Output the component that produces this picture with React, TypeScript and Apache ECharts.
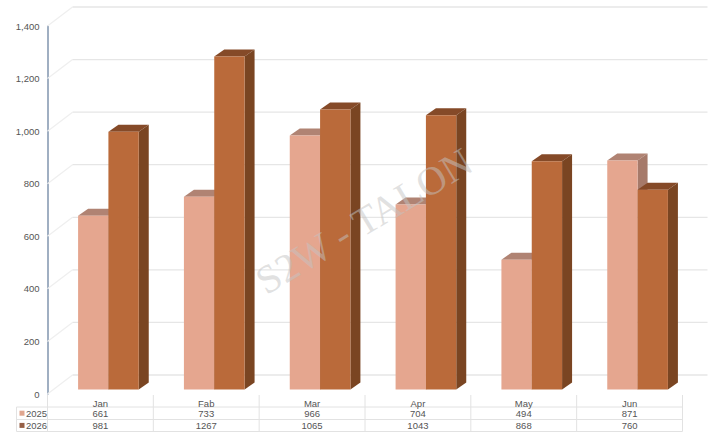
import React, { useEffect, useRef } from "react";
import * as echarts from "echarts";

const categories = ["Jan", "Fab", "Mar", "Apr", "May", "Jun"];
const seriesNames = ["2025", "2026"];
const values2025 = [661, 733, 966, 704, 494, 871];
const values2026 = [981, 1267, 1065, 1043, 868, 760];
const yTicks = [0, 200, 400, 600, 800, 1000, 1200, 1400];

const FONT = '"Liberation Sans", Arial, sans-serif';
const TEXT = "#555555";
const TABLE_LINE = "#E2E2E2";
const FONT_SIZE = 9.5;

const GRID_LEFT = 47.5;
const GRID_RIGHT = 682.5;
const GRID_TOP = 26;
const GRID_BOTTOM = 394;
const BAND = (GRID_RIGHT - GRID_LEFT) / categories.length;

function wallItem(params: any, api: any) {
  const y = api.coord([0, api.value(0)])[1];
  const left = params.coordSys.x;
  const right = left + params.coordSys.width;
  const style = { stroke: "#E6E6E6", lineWidth: 1.3, fill: "none" };
  return {
    type: "group",
    children: [
      { type: "line", shape: { x1: left, y1: y, x2: left + 25, y2: y - 19 }, style: { ...style, stroke: "#EFEFEF" } },
      { type: "line", shape: { x1: left + 25, y1: y - 19, x2: right + 25, y2: y - 19 }, style },
    ],
  };
}

function barItem(offset: number, front: string, top: string, side: string) {
  return (_params: any, api: any) => {
    const base = api.coord([api.value(0), 0]);
    const head = api.coord([api.value(0), api.value(1)]);
    const band = api.size([1, 0])[0];
    const w = band * 0.2866;
    const x = base[0] + 8 - w + offset * w;
    const yBase = base[1] - 4.5;
    const yTop = head[1] - 4.5;
    const dx = 10;
    const dy = 7;
    return {
      type: "group",
      children: [
        {
          type: "polygon",
          shape: { points: [[x, yTop], [x + dx, yTop - dy], [x + w + dx, yTop - dy], [x + w, yTop]] },
          style: { fill: top },
        },
        {
          type: "polygon",
          shape: { points: [[x + w, yTop], [x + w + dx, yTop - dy], [x + w + dx, yBase - dy], [x + w, yBase]] },
          style: { fill: side },
        },
        { type: "rect", shape: { x, y: yTop, width: w, height: yBase - yTop }, style: { fill: front } },
      ],
    };
  };
}

function tableGraphics() {
  const items: any[] = [];
  const rows = [407, 419.5, 431.5];
  const line = (x1: number, y1: number, x2: number, y2: number) => ({
    type: "line",
    silent: true,
    shape: { x1, y1, x2, y2 },
    style: { stroke: TABLE_LINE, lineWidth: 1 },
  });
  rows.forEach((y) => items.push(line(16.5, y, GRID_RIGHT, y)));
  items.push(line(16.5, rows[0], 16.5, rows[2]));
  categories.forEach((_, i) => items.push(line(GRID_LEFT + i * BAND, 395, GRID_LEFT + i * BAND, rows[2])));
  items.push(line(GRID_RIGHT, 395, GRID_RIGHT, rows[2]));
  [values2025, values2026].forEach((vals, r) => {
    const cy = r === 0 ? 413.2 : 425.4;
    items.push({
      type: "rect",
      shape: { x: 19.5, y: cy - 2.5, width: 5, height: 5 },
      style: { fill: r === 0 ? "#E0A68F" : "#965F45" },
    });
    items.push({
      type: "text",
      style: { text: seriesNames[r], x: 26, y: cy, fill: TEXT, font: `${FONT_SIZE}px ${FONT}`, textAlign: "left", textVerticalAlign: "middle" },
    });
    vals.forEach((v, i) =>
      items.push({
        type: "text",
        style: {
          text: String(v),
          x: GRID_LEFT + (i + 0.5) * BAND,
          y: cy,
          fill: TEXT,
          font: `${FONT_SIZE}px ${FONT}`,
          textAlign: "center",
          textVerticalAlign: "middle",
        },
      })
    );
  });
  items.push({
    type: "text",
    x: 364,
    y: 221,
    rotation: (31 * Math.PI) / 180,
    originX: 0,
    originY: 0,
    z: 100,
    silent: true,
    style: {
      text: "S2W - TALON",
      x: 0,
      y: 0,
      fill: "rgba(195,195,195,0.5)",
      font: `40px "Liberation Serif", serif`,
      textAlign: "center",
      textVerticalAlign: "middle",
    },
  });
  return items;
}

export default function App() {
  const ref = useRef<HTMLDivElement>(null);
  useEffect(() => {
    const chart = echarts.init(ref.current!, undefined, { renderer: "svg" });
    chart.setOption({
      animation: false,
      backgroundColor: "#FFFFFF",
      grid: {
        left: GRID_LEFT,
        top: GRID_TOP,
        width: GRID_RIGHT - GRID_LEFT,
        height: GRID_BOTTOM - GRID_TOP,
        containLabel: false,
      },
      xAxis: {
        type: "category",
        data: categories,
        axisLine: { show: false },
        axisTick: { show: false },
        axisLabel: { color: TEXT, fontFamily: FONT, fontSize: FONT_SIZE, margin: 4 },
      },
      yAxis: {
        type: "value",
        min: 0,
        max: 1400,
        interval: 200,
        splitLine: { show: false },
        axisTick: { show: false },
        axisLine: { show: true, lineStyle: { color: "#8095AE", width: 1.5 } },
        axisLabel: {
          color: TEXT,
          fontFamily: FONT,
          fontSize: FONT_SIZE,
          margin: 8,
          padding: [2, 0, 0, 0],
          formatter: (v: number) => v.toLocaleString("en-US"),
        },
      },
      series: [
        {
          name: "wall",
          type: "custom",
          z: 1,
          silent: true,
          renderItem: wallItem,
          encode: { y: 0 },
          data: yTicks.map((t) => [t]),
        },
        {
          name: seriesNames[0],
          type: "custom",
          z: 2,
          renderItem: barItem(0, "#E5A68F", "#B08373", "#A67A6A"),
          encode: { x: 0, y: 1 },
          data: values2025.map((v, i) => [i, v]),
        },
        {
          name: seriesNames[1],
          type: "custom",
          z: 3,
          renderItem: barItem(1, "#BA6A3A", "#854A28", "#7A4522"),
          encode: { x: 0, y: 1 },
          data: values2026.map((v, i) => [i, v]),
        },
      ],
      graphic: tableGraphics(),
    });
    return () => chart.dispose();
  }, []);
  return <div ref={ref} style={{ width: 720, height: 434, position: "absolute", left: 0, top: 0 }} />;
}
